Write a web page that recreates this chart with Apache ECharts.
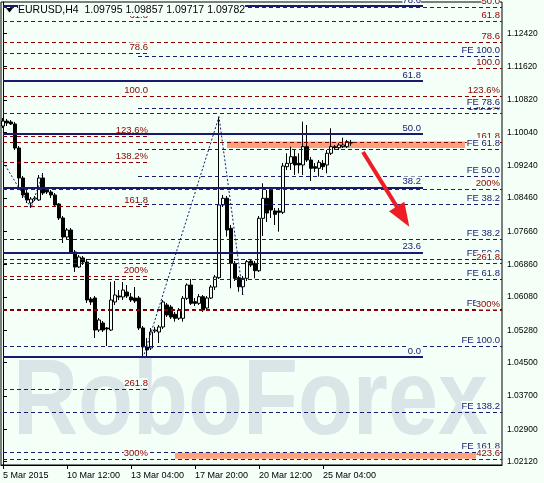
<!DOCTYPE html>
<html>
<head>
<meta charset="utf-8">
<script src="https://cdn.jsdelivr.net/npm/echarts@6/dist/echarts.min.js"></script>
<style>
html, body { margin: 0; padding: 0; background: #f3fff7; }
#chart { width: 544px; height: 483px; }
</style>
</head>
<body>
<div id="chart"></div>
<script>
// EURUSD H4, 5 Mar - 26 Mar 2015
const symbolName = 'EURUSD,H4';
const dateLabels = ['5 Mar 2015', '10 Mar 12:00', '13 Mar 04:00', '17 Mar 20:00', '20 Mar 12:00', '25 Mar 04:00'];
const dateLabelBars = [0, 16, 32, 48, 64, 80];
const priceTicks = [1.12420, 1.11620, 1.10820, 1.10040, 1.09240, 1.08460, 1.07660,
  1.06860, 1.06080, 1.05280, 1.04500, 1.03700, 1.02900, 1.02120];

const opens = [1.10191, 1.10311, 1.10287, 1.10239, 1.09662, 1.08941, 1.08580, 1.08340, 1.08436, 1.08412,
  1.08941, 1.08652, 1.08604, 1.08532, 1.08316, 1.07979, 1.07522, 1.07691, 1.07162, 1.06801,
  1.07018, 1.06921, 1.06032, 1.06056, 1.05286, 1.05455, 1.05335, 1.05286, 1.05960, 1.06104,
  1.06080, 1.06200, 1.06080, 1.06056, 1.06056, 1.05335, 1.04878, 1.04854, 1.05262, 1.05238,
  1.05359, 1.05888, 1.05839, 1.05664, 1.05568, 1.05568, 1.06049, 1.06368, 1.05967, 1.05928,
  1.06087, 1.05815, 1.06056, 1.06320, 1.06544, 1.08292, 1.08453, 1.07732, 1.06890, 1.06544,
  1.06327, 1.06529, 1.06945, 1.06890, 1.06712, 1.07972, 1.08453, 1.08652, 1.08148, 1.08148,
  1.08116, 1.09213, 1.09294, 1.09453, 1.09294, 1.09254, 1.09694, 1.09374, 1.09213, 1.09174,
  1.09294, 1.09254, 1.09535, 1.09694, 1.09669, 1.09694, 1.09694, 1.09795];
const highs = [1.10384, 1.10360, 1.10335, 1.10287, 1.09710, 1.08989, 1.08652, 1.08484, 1.08508, 1.09013,
  1.09061, 1.08701, 1.08652, 1.08580, 1.08340, 1.08027, 1.07739, 1.07739, 1.07210, 1.07090,
  1.07066, 1.06993, 1.06080, 1.06104, 1.05575, 1.05503, 1.05359, 1.06441, 1.06465, 1.06248,
  1.06441, 1.06368, 1.06176, 1.06320, 1.06104, 1.05383, 1.05094, 1.05335, 1.05359, 1.05407,
  1.06008, 1.05936, 1.05888, 1.05719, 1.05815, 1.06104, 1.06409, 1.06513, 1.06056, 1.06152,
  1.06128, 1.06104, 1.06368, 1.06609, 1.10415, 1.08532, 1.08508, 1.07811, 1.06945, 1.06585,
  1.06585, 1.06969, 1.06993, 1.06945, 1.08027, 1.08814, 1.08652, 1.08701, 1.08220, 1.08220,
  1.09302, 1.09535, 1.09694, 1.09614, 1.09535, 1.10295, 1.10215, 1.09446, 1.09302, 1.09374,
  1.09374, 1.09614, 1.10136, 1.09734, 1.09782, 1.09910, 1.09855, 1.09857];
const lows = [1.10143, 1.10191, 1.10215, 1.09614, 1.08725, 1.08460, 1.08340, 1.08220, 1.08388, 1.08388,
  1.08532, 1.08556, 1.08460, 1.08244, 1.07931, 1.07378, 1.07450, 1.07114, 1.06681, 1.06777,
  1.06849, 1.05936, 1.05888, 1.05094, 1.05238, 1.05238, 1.04902, 1.05262, 1.05888, 1.06008,
  1.06008, 1.06056, 1.05960, 1.05936, 1.05286, 1.04613, 1.04661, 1.04806, 1.05214, 1.04974,
  1.05311, 1.05599, 1.05551, 1.05486, 1.05527, 1.05486, 1.06008, 1.05888, 1.05863, 1.05888,
  1.05719, 1.05767, 1.06032, 1.06248, 1.06513, 1.08244, 1.07530, 1.06289, 1.06465, 1.06207,
  1.06128, 1.06465, 1.06801, 1.06529, 1.06681, 1.07546, 1.07883, 1.07979, 1.07811, 1.07650,
  1.08075, 1.09133, 1.09133, 1.09013, 1.09054, 1.09013, 1.09326, 1.08869, 1.09085, 1.08972,
  1.09133, 1.09054, 1.09494, 1.09614, 1.09614, 1.09662, 1.09662, 1.09717];
const closes = [1.10311, 1.10263, 1.10239, 1.09662, 1.08941, 1.08532, 1.08412, 1.08436, 1.08460, 1.08941,
  1.08580, 1.08604, 1.08532, 1.08292, 1.07979, 1.07522, 1.07691, 1.07162, 1.06801, 1.07042,
  1.06921, 1.06008, 1.05960, 1.05286, 1.05527, 1.05286, 1.05311, 1.06008, 1.06128, 1.06080,
  1.06248, 1.06104, 1.06008, 1.05984, 1.05335, 1.04878, 1.04806, 1.05238, 1.05286, 1.05359,
  1.05960, 1.05647, 1.05599, 1.05568, 1.05767, 1.06049, 1.06368, 1.05928, 1.05928, 1.06087,
  1.05767, 1.06056, 1.06320, 1.06561, 1.08292, 1.08453, 1.07691, 1.06890, 1.06529, 1.06327,
  1.06529, 1.06929, 1.06849, 1.06712, 1.07972, 1.08453, 1.08099, 1.08172, 1.08068, 1.08116,
  1.09229, 1.09294, 1.09453, 1.09254, 1.09254, 1.09694, 1.09374, 1.09174, 1.09174, 1.09318,
  1.09213, 1.09535, 1.09694, 1.09669, 1.09734, 1.09734, 1.09814, 1.09782];

// Fibonacci retracement (solid blue)
const fiboLabels = ['78.6', '61.8', '50.0', '38.2', '23.6', '0.0'];
const fiboPrices = [1.13076, 1.11273, 1.09999, 1.08713, 1.07150, 1.04637];
const fiboSpan = [0, 105];
// Fibonacci levels, red, left group
const redALabels = ['61.8', '78.6', '100.0', '123.6%', '138.2%', '161.8', '200%', '261.8', '300%'];
const redAPrices = [1.12699, 1.11939, 1.10896, 1.09951, 1.09318, 1.08251, 1.06585, 1.03868, 1.02178];
const redASpan = [0, 36.75];
// Fibonacci levels, red, right group
const redBLabels = ['50.0', '61.8', '78.6', '100.0', '123.6%', '138.2%', '161.8', '200%', '261.8', '300%', '423.6'];
const redBPrices = [1.13043, 1.12699, 1.12194, 1.11578, 1.10896, 1.10497, 1.09799, 1.08676, 1.06890, 1.05755, 1.02178];
const redBSpan = [0, 124.75];
// Fibonacci expansions (dashed blue)
const fe1Labels = ['FE 100.0', 'FE 78.6', 'FE 61.8', 'FE 50.0', 'FE 38.2'];
const fe1Prices = [1.11874, 1.10624, 1.09638, 1.08989, 1.08316];
const fe1Span = [33.75, 124.75];
const fe2Labels = ['FE 38.2', 'FE 50.0', 'FE 61.8', 'FE 78.6', 'FE 100.0', 'FE 138.2', 'FE 161.8'];
const fe2Prices = [1.07467, 1.06981, 1.06501, 1.05779, 1.04902, 1.03315, 1.02336];
const fe2Span = [0, 124.75];
// expansion anchor lines (dotted)
const zigzagA = [[0, 1.09334], [7, 1.08220], [10, 1.09061]];
const zigzagB = [[35, 1.04613], [54, 1.10415], [60, 1.06128]];
// zones
const zones = [
  [[56, 1.09818], [115.5, 1.09662]],
  [[43, 1.02336], [118.25, 1.02190]]
];
// forecast arrow
const arrowFrom = [90, 1.09566];
const arrowTo = [100, 1.08013];

const BG = '#f3fff7';
const RED = '#8b0000';
const NAVY = '#191970';
const FONT = 'Liberation Sans';

const last = opens.length - 1;
const candles = opens.map((o, i) => [i, o, closes[i], lows[i], highs[i]]);

function levelLines(labels, prices, span) {
  return labels.map((name, i) => [
    { name: name, coord: [span[0], prices[i]] },
    { coord: [span[1], prices[i]] }
  ]);
}

function levelSeries(labels, prices, span, color, type, width, z) {
  return {
    type: 'line', data: [], silent: true,
    markLine: {
      z: z, silent: true, symbol: ['none', 'none'], animation: false,
      lineStyle: { color: color, type: type, width: width },
      label: {
        show: true, position: 'insideEndTop', formatter: '{b}', color: color,
        fontFamily: FONT, fontSize: 9.5, lineHeight: 10,
        backgroundColor: BG, padding: 0, distance: [2, 1]
      },
      emphasis: { disabled: true },
      data: levelLines(labels, prices, span)
    }
  };
}

const chart = echarts.init(document.getElementById('chart'));

const option = {
  backgroundColor: BG,
  animation: false,
  grid: { left: 1, right: 42, top: 2, bottom: 18, show: true, borderColor: '#000', borderWidth: 1 },
  xAxis: {
    type: 'value', min: -0.5, max: 124.75,
    axisLine: { show: true, lineStyle: { color: '#000' } },
    axisTick: { show: true, customValues: dateLabelBars, length: 4, lineStyle: { color: '#000' } },
    axisLabel: {
      customValues: dateLabelBars, align: 'left', margin: 6, color: '#000',
      fontFamily: FONT, fontSize: 9,
      formatter: v => dateLabels[dateLabelBars.indexOf(v)]
    },
    splitLine: { show: false }
  },
  yAxis: {
    type: 'value', position: 'right', scale: true, min: 1.020406, max: 1.131725,
    axisLine: { show: true, lineStyle: { color: '#000' } },
    axisTick: { show: true, customValues: priceTicks, length: 4, lineStyle: { color: '#000' } },
    axisLabel: {
      customValues: priceTicks, margin: 5, color: '#000', fontFamily: FONT, fontSize: 8.5,
      formatter: v => v.toFixed(5)
    },
    splitLine: { show: false }
  },
  graphic: [
    {
      type: 'text', left: 13, top: 350, z: 0, silent: true, scaleY: 1.2,
      style: { text: 'RoboForex', font: 'bold 90px "Liberation Sans"', fill: '#dae5e8' }
    },
    {
      type: 'polygon', z: 100, silent: true,
      shape: { points: [[6, 8], [13, 8], [9.5, 12.5]] },
      style: { fill: '#000' }
    },
    {
      type: 'text', left: 18, top: 5, z: 100, silent: true,
      style: {
        text: symbolName + '  ' + [opens[last], highs[last], lows[last], closes[last]].map(v => v.toFixed(5)).join(' '),
        font: '10.5px "Liberation Sans"', fill: '#000', backgroundColor: BG
      }
    }
  ],
  series: [
    {
      type: 'line', data: [], silent: true,
      markArea: {
        z: 1, silent: true,
        itemStyle: { color: '#ffa07a', opacity: 1 },
        data: zones.map(z => [{ coord: z[0] }, { coord: z[1] }])
      }
    },
    {
      type: 'candlestick', data: candles, barWidth: 3, z: 2, silent: true,
      itemStyle: { color: BG, color0: '#000', borderColor: '#000', borderColor0: '#000', borderWidth: 1 }
    },
    levelSeries(fe2Labels, fe2Prices, fe2Span, NAVY, [4, 3], 1, 3),
    levelSeries(redALabels, redAPrices, redASpan, RED, [4, 3], 1, 4),
    levelSeries(redBLabels, redBPrices, redBSpan, RED, [4, 3], 1, 4),
    levelSeries(fe1Labels, fe1Prices, fe1Span, NAVY, [4, 3], 1, 5),
    levelSeries(fiboLabels, fiboPrices, fiboSpan, NAVY, 'solid', 2, 6),
    {
      type: 'line', data: zigzagA, z: 6, silent: true, symbol: 'none',
      lineStyle: { color: NAVY, width: 1, type: [2, 2] }
    },
    {
      type: 'line', data: zigzagB, z: 6, silent: true, symbol: 'none',
      lineStyle: { color: NAVY, width: 1, type: [2, 2] }
    },
    {
      type: 'line', data: [], silent: true,
      markLine: {
        z: 8, silent: true, animation: false,
        symbol: ['none', 'triangle'], symbolSize: [18, 24],
        lineStyle: { color: '#ee1c24', width: 4, type: 'solid' },
        itemStyle: { color: '#ee1c24' },
        label: { show: false },
        emphasis: { disabled: true },
        data: [[{ coord: arrowFrom }, { coord: arrowTo }]]
      }
    },
    {
      type: 'line', data: [], silent: true,
      markLine: {
        z: 8, silent: true, animation: false, symbol: ['none', 'none'],
        lineStyle: { opacity: 0 },
        label: {
          show: true, position: 'end', distance: 2,
          formatter: () => closes[last].toFixed(5),
          color: '#fff', backgroundColor: '#000', padding: [1, 3, 0, 3],
          fontFamily: FONT, fontSize: 8.5
        },
        emphasis: { disabled: true },
        data: [{ yAxis: closes[last] }]
      }
    }
  ]
};

chart.setOption(option);
</script>
</body>
</html>
